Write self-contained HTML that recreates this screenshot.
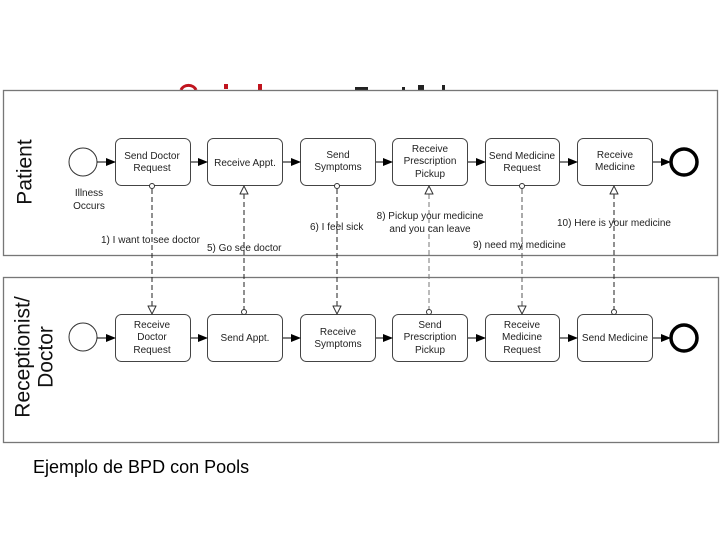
<!DOCTYPE html>
<html><head><style>body{margin:0;background:#fff}svg{display:block}</style></head><body>
<svg width="720" height="540" viewBox="0 0 720 540" xmlns="http://www.w3.org/2000/svg" font-family="Liberation Sans, sans-serif">
<defs>
<marker id="a" markerWidth="10" markerHeight="8" refX="9" refY="4" orient="auto" markerUnits="userSpaceOnUse"><path d="M0,0 L10,4 L0,8z" fill="#000"/></marker>
<marker id="o" markerWidth="10" markerHeight="9" refX="9" refY="4.5" orient="auto" markerUnits="userSpaceOnUse"><path d="M1,0.5 L9,4.5 L1,8.5z" fill="#fff" stroke="#333" stroke-width="1"/></marker>
</defs>
<!-- title remnants -->
<path d="M181,90 A8,7 0 0 1 196,90" fill="none" stroke="#c0141e" stroke-width="3"/>
<rect x="224" y="84" width="4" height="5" fill="#c0141e"/>
<rect x="258" y="84" width="4" height="6" fill="#c0141e"/>
<rect x="355" y="87" width="13" height="3" fill="#222"/>
<rect x="402" y="87" width="3" height="3" fill="#222"/>
<rect x="418" y="85" width="6" height="5" fill="#222"/>
<rect x="442" y="85" width="3" height="5" fill="#222"/>
<!-- pools -->
<rect x="3.5" y="90.5" width="714" height="165" fill="#fff" stroke="#777" stroke-width="1.3"/>
<rect x="3.5" y="277.5" width="715" height="165" fill="#fff" stroke="#777" stroke-width="1.3"/>
<text transform="translate(26,172) rotate(-90)" text-anchor="middle" font-size="21" fill="#111" dominant-baseline="middle">Patient</text>
<text transform="translate(24,357) rotate(-90)" text-anchor="middle" font-size="21" fill="#111" dominant-baseline="middle">Receptionist/</text>
<text transform="translate(47,357) rotate(-90)" text-anchor="middle" font-size="21" fill="#111" dominant-baseline="middle">Doctor</text>
<g stroke="#333" stroke-width="1" fill="#fff">
<circle cx="83" cy="162" r="14"/>
<circle cx="83" cy="337" r="14"/>
</g>
<g stroke="#000" stroke-width="3.5" fill="#fff">
<circle cx="684" cy="162" r="13"/>
<circle cx="684" cy="338" r="13"/>
</g>
<g stroke="#444" stroke-width="1" fill="#fff">
<rect x="115.5" y="138.5" width="75" height="47" rx="6"/>
<rect x="207.5" y="138.5" width="75" height="47" rx="6"/>
<rect x="300.5" y="138.5" width="75" height="47" rx="6"/>
<rect x="392.5" y="138.5" width="75" height="47" rx="6"/>
<rect x="485.5" y="138.5" width="74" height="47" rx="6"/>
<rect x="577.5" y="138.5" width="75" height="47" rx="6"/>
<rect x="115.5" y="314.5" width="75" height="47" rx="6"/>
<rect x="207.5" y="314.5" width="75" height="47" rx="6"/>
<rect x="300.5" y="314.5" width="75" height="47" rx="6"/>
<rect x="392.5" y="314.5" width="75" height="47" rx="6"/>
<rect x="485.5" y="314.5" width="74" height="47" rx="6"/>
<rect x="577.5" y="314.5" width="75" height="47" rx="6"/>
</g>
<g stroke="#000" stroke-width="1" marker-end="url(#a)">
<line x1="97" y1="162" x2="115" y2="162"/><line x1="191" y1="162" x2="207" y2="162"/><line x1="283" y1="162" x2="300" y2="162"/><line x1="376" y1="162" x2="392" y2="162"/><line x1="468" y1="162" x2="485" y2="162"/><line x1="560" y1="162" x2="577" y2="162"/><line x1="653" y1="162" x2="670" y2="162"/>
<line x1="97" y1="338" x2="115" y2="338"/><line x1="191" y1="338" x2="207" y2="338"/><line x1="283" y1="338" x2="300" y2="338"/><line x1="376" y1="338" x2="392" y2="338"/><line x1="468" y1="338" x2="485" y2="338"/><line x1="560" y1="338" x2="577" y2="338"/><line x1="653" y1="338" x2="670" y2="338"/>
</g>
<!-- message flows -->
<g stroke="#222" stroke-width="1" stroke-dasharray="5,3" fill="none">
<line x1="152" y1="189" x2="152" y2="314" marker-end="url(#o)"/>
<line x1="244" y1="311" x2="244" y2="186" marker-end="url(#o)"/>
<line x1="337" y1="189" x2="337" y2="314" marker-end="url(#o)"/>
<line x1="429" y1="311" x2="429" y2="186" marker-end="url(#o)" stroke="#777"/>
<line x1="522" y1="189" x2="522" y2="314" marker-end="url(#o)" stroke="#555"/>
<line x1="614" y1="311" x2="614" y2="186" marker-end="url(#o)"/>
</g>
<g stroke="#333" fill="#fff" stroke-width="1">
<circle cx="152" cy="186" r="2.5"/><circle cx="244" cy="312" r="2.5"/><circle cx="337" cy="186" r="2.5"/><circle cx="429" cy="312" r="2.5"/><circle cx="522" cy="186" r="2.5"/><circle cx="614" cy="312" r="2.5"/>
</g>
<g font-size="10" fill="#222" text-anchor="middle">
<text x="152" y="159">Send Doctor</text><text x="152" y="171">Request</text>
<text x="245" y="166">Receive Appt.</text>
<text x="338" y="158">Send</text><text x="338" y="170">Symptoms</text>
<text x="430" y="152">Receive</text><text x="430" y="164">Prescription</text><text x="430" y="177">Pickup</text>
<text x="522" y="159">Send Medicine</text><text x="522" y="171">Request</text>
<text x="615" y="158">Receive</text><text x="615" y="170">Medicine</text>
<text x="89" y="196">Illness</text><text x="89" y="209">Occurs</text>
<text x="152" y="328">Receive</text><text x="152" y="340">Doctor</text><text x="152" y="353">Request</text>
<text x="245" y="341">Send Appt.</text>
<text x="338" y="335">Receive</text><text x="338" y="347">Symptoms</text>
<text x="430" y="328">Send</text><text x="430" y="340">Prescription</text><text x="430" y="353">Pickup</text>
<text x="522" y="328">Receive</text><text x="522" y="340">Medicine</text><text x="522" y="353">Request</text>
<text x="615" y="341">Send Medicine</text>
<text x="430" y="219">8) Pickup your medicine</text><text x="430" y="232">and you can leave</text>
</g>
<g font-size="10" fill="#222">
<text x="101" y="243">1) I want to see doctor</text>
<text x="207" y="251">5) Go see doctor</text>
<text x="310" y="230">6) I feel sick</text>
<text x="473" y="248">9)  need my medicine</text>
<text x="557" y="226">10) Here is your medicine</text>
</g>
<text x="33" y="473" font-size="18" fill="#000">Ejemplo de BPD con Pools</text>
</svg>
</body></html>
